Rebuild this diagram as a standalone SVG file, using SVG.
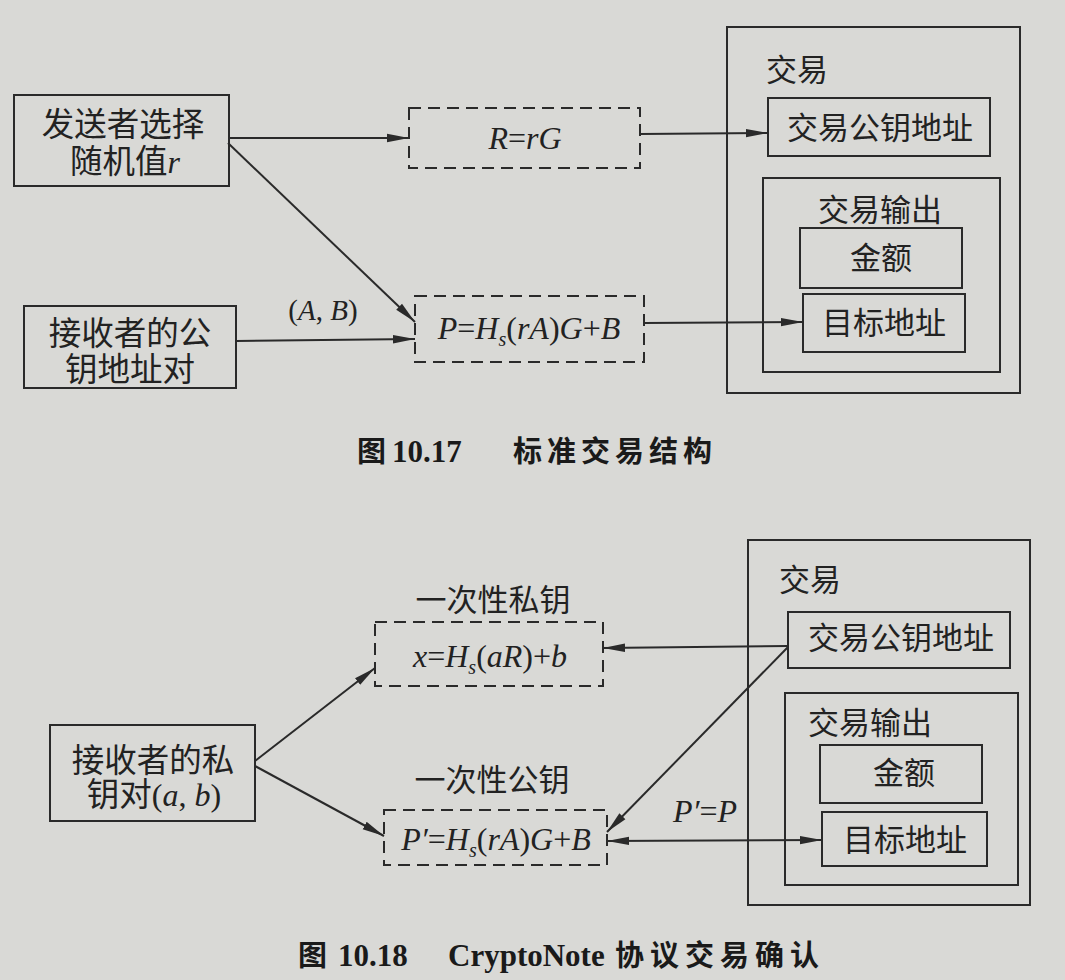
<svg xmlns="http://www.w3.org/2000/svg" width="1065" height="980" viewBox="0 0 1065 980">
<defs>
<marker id="ah" markerUnits="userSpaceOnUse" markerWidth="24" markerHeight="12" refX="22" refY="6" orient="auto">
<path d="M0,1.8 L22,6 L0,10.2 Z" fill="#2a2a2a"/>
</marker>
<marker id="as" markerUnits="userSpaceOnUse" markerWidth="24" markerHeight="12" refX="0" refY="6" orient="auto">
<path d="M22,1.8 L0,6 L22,10.2 Z" fill="#2a2a2a"/>
</marker>
</defs>
<style>
.bg{fill:#d9d9d6}
.box{fill:none;stroke:#2a2a2a;stroke-width:2}
.dash{fill:none;stroke:#2a2a2a;stroke-width:2;stroke-dasharray:12 7}
.cjk{font-family:"Noto Sans CJK SC","Noto Sans CJK TC",sans-serif;font-size:31px;fill:#222}
.big{font-family:"Liberation Sans","Noto Sans CJK SC","Noto Sans CJK TC",sans-serif;font-size:32.5px}
.math{font-family:"Liberation Serif",serif;font-style:italic;font-size:32px;fill:#222}
.up{font-style:normal}
.sub{font-size:20px}
.edge{stroke:#2a2a2a;stroke-width:2;fill:none;marker-end:url(#ah)}
.cap{font-family:"Noto Sans CJK SC",sans-serif;font-weight:bold;font-size:29px;fill:#1a1a1a}
.capn{font-family:"Liberation Serif",serif;font-weight:bold;font-size:31px;fill:#1a1a1a}
</style>
<rect class="bg" x="0" y="0" width="1065" height="980"/>

<!-- Figure 10.17 -->
<g id="sender">
<rect class="box" x="14" y="95" width="215" height="91"/>
<text class="cjk big" x="123" y="136" text-anchor="middle">发送者选择</text>
<text class="cjk big" x="125" y="173" text-anchor="middle">随机值<tspan class="math">r</tspan></text>
</g>
<g id="receiver-pub">
<rect class="box" x="24" y="306" width="212" height="82"/>
<text class="cjk big" x="130" y="345" text-anchor="middle">接收者的公</text>
<text class="cjk big" x="130" y="381" text-anchor="middle">钥地址对</text>
</g>
<g id="R-box">
<rect class="dash" x="409" y="108" width="231" height="60"/>
<text class="math" x="525" y="149" text-anchor="middle">R<tspan class="up">=</tspan>rG</text>
</g>
<g id="P-box">
<rect class="dash" x="415" y="296" width="229" height="66"/>
<text class="math" x="529" y="339" text-anchor="middle">P<tspan class="up">=</tspan>H<tspan class="sub" dy="7">s</tspan><tspan class="up" dy="-7">(</tspan>rA<tspan class="up">)</tspan>G<tspan class="up">+</tspan>B</text>
</g>
<g id="tx1">
<rect class="box" x="727" y="27" width="293" height="366"/>
<text class="cjk" x="797" y="81" text-anchor="middle">交易</text>
</g>
<g id="tx1-pubaddr">
<rect class="box" x="768" y="98" width="222" height="58"/>
<text class="cjk" x="880" y="139" text-anchor="middle">交易公钥地址</text>
</g>
<g id="tx1-output">
<rect class="box" x="763" y="178" width="237" height="194"/>
<text class="cjk" x="880" y="221" text-anchor="middle">交易输出</text>
</g>
<g id="tx1-amount">
<rect class="box" x="800" y="228" width="162" height="60"/>
<text class="cjk" x="881" y="269" text-anchor="middle">金额</text>
</g>
<g id="tx1-dest">
<rect class="box" x="803" y="294" width="162" height="58"/>
<text class="cjk" x="884" y="334" text-anchor="middle">目标地址</text>
</g>
<g id="edges1">
<line class="edge" x1="229" y1="138" x2="409" y2="138"/>
<line class="edge" x1="228" y1="143" x2="415" y2="322"/>
<line class="edge" x1="236" y1="341" x2="415" y2="339"/>
<line class="edge" x1="640" y1="134" x2="768" y2="133"/>
<line class="edge" x1="644" y1="323" x2="803" y2="322"/>
<text class="math" x="323" y="320" text-anchor="middle" style="font-size:29px"><tspan class="up">(</tspan>A<tspan class="up">, </tspan>B<tspan class="up">)</tspan></text>
</g>
<g id="caption1">
<text y="462"><tspan class="cap" x="357">图</tspan><tspan class="capn" x="392">10.17</tspan><tspan class="cap" x="513" style="letter-spacing:5px">标准交易结构</tspan></text>
</g>

<!-- Figure 10.18 -->
<g id="receiver-priv">
<rect class="box" x="50" y="725" width="205" height="96"/>
<text class="cjk big" x="153" y="772" text-anchor="middle">接收者的私</text>
<text class="cjk big" x="154" y="806" text-anchor="middle">钥对<tspan class="math up">(</tspan><tspan class="math">a</tspan><tspan class="math up">, </tspan><tspan class="math">b</tspan><tspan class="math up">)</tspan></text>
</g>
<g id="x-box">
<text class="cjk" x="493" y="611" text-anchor="middle">一次性私钥</text>
<rect class="dash" x="375" y="622" width="228" height="64"/>
<text class="math" x="490" y="667" text-anchor="middle">x<tspan class="up">=</tspan>H<tspan class="sub" dy="7">s</tspan><tspan class="up" dy="-7">(</tspan>aR<tspan class="up">)+</tspan>b</text>
</g>
<g id="Pp-box">
<text class="cjk" x="492" y="791" text-anchor="middle">一次性公钥</text>
<rect class="dash" x="384" y="810" width="223" height="55"/>
<text class="math" x="496" y="850" text-anchor="middle">P′<tspan class="up">=</tspan>H<tspan class="sub" dy="7">s</tspan><tspan class="up" dy="-7">(</tspan>rA<tspan class="up">)</tspan>G<tspan class="up">+</tspan>B</text>
</g>
<g id="tx2">
<rect class="box" x="748" y="540" width="282" height="365"/>
<text class="cjk" x="810" y="591" text-anchor="middle">交易</text>
</g>
<g id="tx2-pubaddr">
<rect class="box" x="788" y="612" width="222" height="56"/>
<text class="cjk" x="901" y="649" text-anchor="middle">交易公钥地址</text>
</g>
<g id="tx2-output">
<rect class="box" x="785" y="693" width="233" height="192"/>
<text class="cjk" x="870" y="734" text-anchor="middle">交易输出</text>
</g>
<g id="tx2-amount">
<rect class="box" x="820" y="745" width="162" height="58"/>
<text class="cjk" x="904" y="784" text-anchor="middle">金额</text>
</g>
<g id="tx2-dest">
<rect class="box" x="822" y="812" width="165" height="54"/>
<text class="cjk" x="905" y="851" text-anchor="middle">目标地址</text>
</g>
<g id="edges2">
<line class="edge" x1="255" y1="761" x2="375" y2="668"/>
<line class="edge" x1="255" y1="766" x2="384" y2="836"/>
<line class="edge" x1="788" y1="646" x2="603" y2="648"/>
<line class="edge" x1="788" y1="647" x2="607" y2="832"/>
<line class="edge" x1="607" y1="841" x2="822" y2="840" style="marker-start:url(#as)"/>
<text class="math" x="705" y="822" text-anchor="middle">P′<tspan class="up">=</tspan>P</text>
</g>
<g id="caption2">
<text y="966"><tspan class="cap" x="298">图</tspan><tspan class="capn" x="338">10.18</tspan><tspan class="capn" x="448">CryptoNote</tspan><tspan class="cap" x="615" style="letter-spacing:6px">协议交易确认</tspan></text>
</g>
</svg>
